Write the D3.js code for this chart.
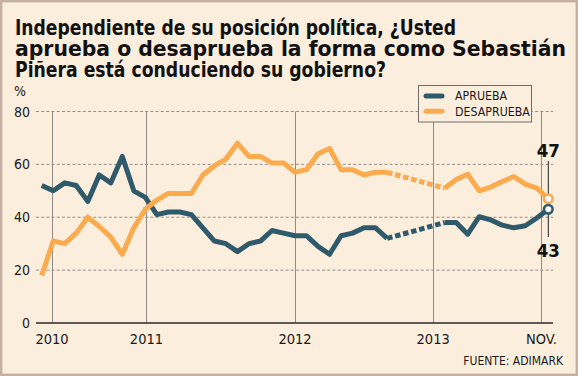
<!DOCTYPE html>
<html><head><meta charset="utf-8">
<script src="https://cdn.jsdelivr.net/npm/d3@7"></script>
<style>
html,body{margin:0;padding:0;background:#fff;}
svg{display:block;}
text{font-family:'DejaVu Sans Condensed','DejaVu Sans',sans-serif;}
</style></head>
<body>
<script>
// ---- data (month index 0 = first survey, monthly) ----
const titleLines = [
  "Independiente de su posición política, ¿Usted",
  "aprueba o desaprueba la forma como Sebastián",
  "Piñera está conduciendo su gobierno?"
];
const seriesNames = ["APRUEBA", "DESAPRUEBA"];
const aprueba = [52,50,53,52,46,56,53,63,50,47.5,
                 41,42,42,41,36,31,30,27,30,31,
                 35,34,33,33,29,26,33,34,36,36,
                 32,null,null,null,null,
                 38,38,33.6,40.2,39,37,36,36.8,39.7,43];
const desaprueba = [18,31,30,34,40,36.5,32.5,26,36,43,
                    46.5,49,49,49,56,59.5,62,68,63,63,
                    60.5,60.5,57,58,64,66,58,58,56,57,
                    57,null,null,null,null,
                    51,54.3,56.3,50,51.4,53.5,55.4,52.5,51,47];
const xTickLabels = ["2010","2011","2012","2013","NOV."];
const xTickIndex = [0.9, 9.1, 22, 34, 43.4];
const yTicks = [0,20,40,60,80];
const source = "FUENTE: ADIMARK";

// ---- layout ----
const W = 578, H = 376;
const colors = ["#2f5a6c", "#fbaa4e"];
const bg = "#fbeedd";

const svg = d3.select("body").append("svg").attr("width", W).attr("height", H);
svg.append("rect").attr("x",1.2).attr("y",1.2).attr("width",W-2.4).attr("height",H-2.4)
  .attr("fill",bg).attr("stroke","#c6b0a3").attr("stroke-width",2.4);

// title
const tl = [441, 551, 371];
const tb = [34.5, 55.5, 76.5];
titleLines.forEach((t,i)=>{
  svg.append("text").attr("x",15).attr("y",tb[i]).text(t)
    .attr("font-weight","bold").attr("font-size",21.5).attr("fill","#111")
    .attr("textLength",tl[i]).attr("lengthAdjust","spacingAndGlyphs");
});

const n = aprueba.length;
const x = d3.scaleLinear().domain([0, n-1]).range([41.7, 548.3]);
const y = d3.scaleLinear().domain([0, 80]).range([323, 111.5]);
const plotL = 36, plotR = 553;

// horizontal dashed gridlines
svg.append("g").selectAll("line").data(yTicks.filter(d=>d>0)).join("line")
  .attr("x1",plotL).attr("x2",plotR).attr("y1",d=>y(d)).attr("y2",d=>y(d))
  .attr("stroke","#8a8580").attr("stroke-width",0.9).attr("stroke-dasharray","3,2.2");

// vertical gridlines
svg.append("g").selectAll("line").data(xTickIndex).join("line")
  .attr("x1",d=>Math.round(x(d))+0.5).attr("x2",d=>Math.round(x(d))+0.5)
  .attr("y1",y(80)).attr("y2",y(0))
  .attr("stroke","#8f8a86").attr("stroke-width",1);

// y labels
svg.append("g").selectAll("text").data(yTicks).join("text")
  .attr("x",30).attr("y",d=>y(d)+5).attr("text-anchor","end")
  .attr("font-size",14).attr("fill","#1a1a1a").text(d=>d);
svg.append("text").attr("x",14).attr("y",96).attr("font-size",14).attr("fill","#1a1a1a").text("%");

// x axis line
svg.append("line").attr("x1",plotL).attr("x2",plotR).attr("y1",y(0)).attr("y2",y(0))
  .attr("stroke","#2a2a2a").attr("stroke-width",1.6);

// x labels
svg.append("g").selectAll("text").data(xTickLabels).join("text")
  .attr("x",(d,i)=>x(xTickIndex[i])).attr("y",344).attr("text-anchor","middle")
  .attr("font-size",14.5).attr("fill","#1a1a1a").text(d=>d);

// source
svg.append("text").attr("x",563).attr("y",365).attr("text-anchor","end")
  .attr("font-size",12).attr("fill","#1a1a1a").text(source);

// lines
const line = d3.line().defined(d=>d.v!=null).x(d=>x(d.i)).y(d=>y(d.v));
[aprueba, desaprueba].forEach((arr,k)=>{
  const pts = arr.map((v,i)=>({i,v}));
  const def = pts.filter(d=>d.v!=null);
  const bridges = [];
  for(let j=1;j<def.length;j++){ if(def[j].i-def[j-1].i>1) bridges.push([def[j-1],def[j]]); }
  bridges.forEach(b=>{
    svg.append("path").attr("d", d3.line().x(d=>x(d.i)).y(d=>y(d.v))(b))
      .attr("fill","none").attr("stroke",colors[k]).attr("stroke-width",5)
      .attr("stroke-dasharray","5.5,2.8");
  });
  svg.append("path").attr("d", line(pts)).attr("fill","none")
    .attr("stroke",colors[k]).attr("stroke-width",5)
    .attr("stroke-linejoin","round").attr("stroke-linecap","butt");
});

// end annotation
const last = n-1;
svg.append("line").attr("x1",x(last)).attr("x2",x(last)).attr("y1",161).attr("y2",237)
  .attr("stroke","#222").attr("stroke-width",1);
[desaprueba, aprueba].forEach((arr,k)=>{
  const c = k===0 ? colors[1] : colors[0];
  svg.append("circle").attr("cx",x(last)).attr("cy",y(arr[last])).attr("r",4.3)
    .attr("fill","#fff").attr("stroke",c).attr("stroke-width",2.6);
});
svg.append("text").attr("x",x(last)).attr("y",157).attr("text-anchor","middle")
  .attr("font-weight","bold").attr("font-size",18.5).attr("fill","#111").text(desaprueba[last]);
svg.append("text").attr("x",x(last)).attr("y",257).attr("text-anchor","middle")
  .attr("font-weight","bold").attr("font-size",18.5).attr("fill","#111").text(aprueba[last]);

// legend
const lg = svg.append("g");
lg.append("rect").attr("x",418.5).attr("y",85.5).attr("width",113).attr("height",36.5)
  .attr("fill",bg).attr("stroke","#6e6a66").attr("stroke-width",1);
seriesNames.forEach((s,k)=>{
  const yy = 96 + k*15.3;
  lg.append("line").attr("x1",426).attr("x2",442).attr("y1",yy).attr("y2",yy)
    .attr("stroke",colors[k]).attr("stroke-width",5).attr("stroke-linecap","round");
  lg.append("text").attr("x",455).attr("y",yy+4.2).attr("font-size",12.3)
    .attr("fill","#1a1a1a").text(s);
});
</script>
</body></html>
